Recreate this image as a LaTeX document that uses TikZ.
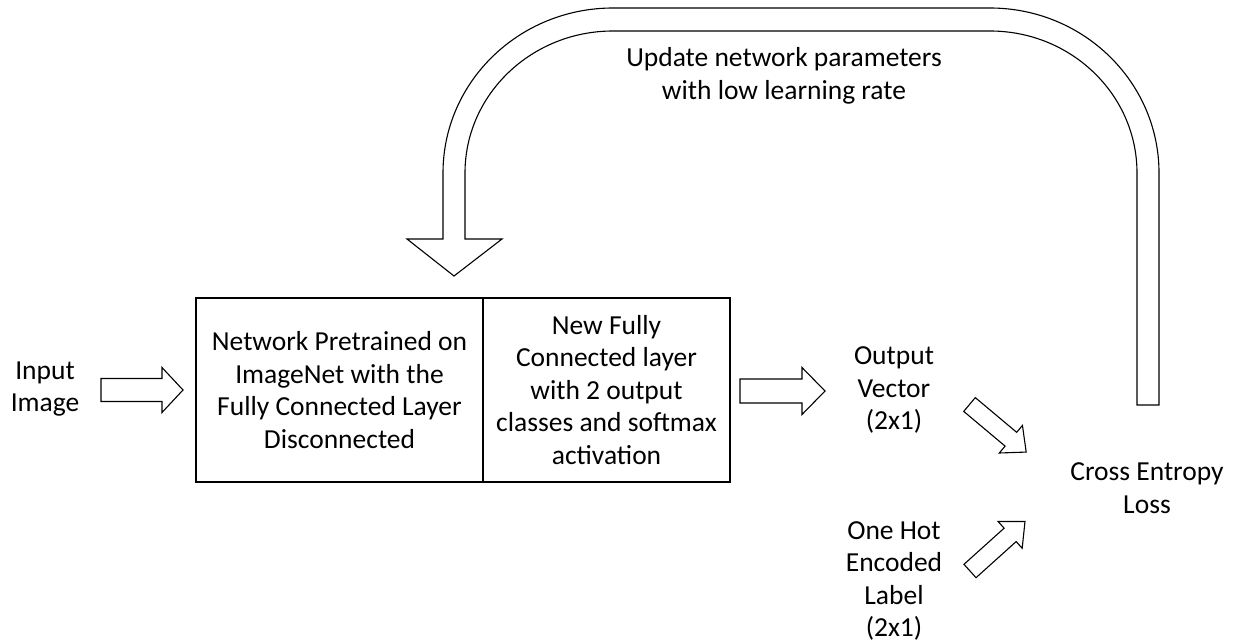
\documentclass[tikz,border=0pt]{standalone}
\usepackage{fontspec}
\setmainfont{Carlito}
\newcommand\bodyfont{\fontsize{27.5pt}{32.5pt}\selectfont}
\tikzset{
  outline/.style={draw=black, line width=1.1pt, line join=miter, fill=white},
  txt/.style={font=\bodyfont, align=center, inner sep=0pt},
  cellbox/.style={draw=black, line width=1.1pt, minimum height=184pt, inner sep=0pt,
    font=\bodyfont, align=center},
  pics/blockarrow/.style n args={4}{code={
    \draw[outline] (0,-#2/2) -- ({#1-#4},-#2/2) -- ({#1-#4},-#3/2) -- (#1,0)
      -- ({#1-#4},#3/2) -- ({#1-#4},#2/2) -- (0,#2/2) -- cycle;
  }}
}
\begin{document}
\begin{tikzpicture}[x=1pt,y=-1pt]
\useasboundingbox (0,0) rectangle (1236,642);

% feedback U-turn arrow
\draw[outline] (443,239) -- (443,173)
  .. controls (443,81.9) and (519.1,8) .. (613,8) -- (990,8)
  .. controls (1083.3,8) and (1159,81.9) .. (1159,173) -- (1159,405)
  -- (1137,405) -- (1137,173)
  .. controls (1137,94.6) and (1071.2,31) .. (990,31) -- (613,31)
  .. controls (531.3,31) and (465,94.6) .. (465,173)
  -- (465,239) -- (502,239) -- (454,276) -- (407,239) -- cycle;

\node[txt] (update) at (784,76) {Update network parameters\\with low learning rate};

% network
\node[txt] (input) at (45,389) {Input\\Image};
\node[cellbox, minimum width=287pt] (pre) at (339.5,390)
  {Network Pretrained on\\ImageNet with the\\Fully Connected Layer\\Disconnected};
\node[cellbox, minimum width=247pt] (fc) at (606.5,390)
  {New Fully\\Connected layer\\with 2 output\\classes and softmax\\activation};

\node[txt] (out) at (894,390) {Output\\Vector\\(2x1)};
\node[txt] (onehot) at (894,581) {One Hot\\Encoded\\Label\\(2x1)};
\node[txt] (loss) at (1147,488) {Cross Entropy\\Loss};

% block arrows
\pic at (101,390) {blockarrow={82}{23}{45}{21}};
\pic at (740,391) {blockarrow={85}{24}{47}{23}};
\pic[rotate=-40] at (969.5,404.5) {blockarrow={74}{18}{36}{20}};
\pic[rotate=42] at (970,571) {blockarrow={74}{18}{36}{20}};
\end{tikzpicture}
\end{document}
